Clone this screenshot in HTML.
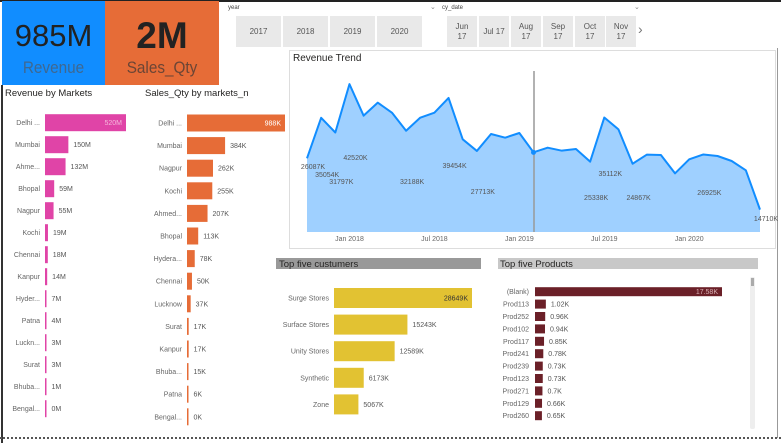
<!DOCTYPE html>
<html><head><meta charset="utf-8">
<style>
body{margin:0;width:781px;height:443px;overflow:hidden;background:#fff;font-family:"Liberation Sans",sans-serif;position:relative}
.abs{position:absolute}
.btn{position:absolute;background:#e9e9e9;color:#555;font-size:8px;display:flex;align-items:center;justify-content:center;text-align:center;line-height:10px}
svg text{font-family:"Liberation Sans",sans-serif}
</style></head><body>
<div class="abs" style="left:0;top:0;width:781px;height:2px;background:#222"></div>
<div class="abs" style="left:1px;top:85px;width:2px;height:358px;background:#333"></div>
<div class="abs" style="left:777px;top:48px;width:1px;height:390px;background:#999"></div>
<div class="abs" style="left:0;top:437px;width:781px;height:0;border-top:2px dotted #555"></div>

<div class="abs" style="left:2px;top:1px;width:103px;height:84px;background:#118dff">
 <div class="abs" style="left:0;width:103px;top:17px;text-align:center;font-size:31px;line-height:36px;color:#222">985M</div>
 <div class="abs" style="left:0;width:103px;top:57px;text-align:center;font-size:17px;line-height:20px;color:#3f6890;transform:scaleX(0.9)">Revenue</div>
</div>
<div class="abs" style="left:105px;top:1px;width:114px;height:84px;background:#e66c37">
 <div class="abs" style="left:0;width:114px;top:15px;text-align:center;font-size:37px;line-height:40px;font-weight:bold;color:#222">2M</div>
 <div class="abs" style="left:0;width:114px;top:57px;text-align:center;font-size:17px;line-height:20px;color:#6b4535;transform:scaleX(0.9)">Sales_Qty</div>
</div>

<div class="abs" style="left:228px;top:5px;font-size:6px;color:#444">year</div>
<div class="abs" style="left:430px;top:3px;font-size:7px;color:#888">⌄</div>
<div class="btn" style="left:236px;top:16px;width:45px;height:31px">2017</div>
<div class="btn" style="left:283px;top:16px;width:45px;height:31px">2018</div>
<div class="btn" style="left:330px;top:16px;width:45px;height:31px">2019</div>
<div class="btn" style="left:377px;top:16px;width:45px;height:31px">2020</div>
<div class="abs" style="left:442px;top:5px;font-size:6px;color:#444">cy_date</div>
<div class="abs" style="left:634px;top:3px;font-size:7px;color:#888">⌄</div>
<div class="btn" style="left:447px;top:16px;width:30px;height:31px">Jun<br>17</div>
<div class="btn" style="left:479px;top:16px;width:30px;height:31px">Jul 17</div>
<div class="btn" style="left:511px;top:16px;width:30px;height:31px">Aug<br>17</div>
<div class="btn" style="left:543px;top:16px;width:30px;height:31px">Sep<br>17</div>
<div class="btn" style="left:575px;top:16px;width:30px;height:31px">Oct<br>17</div>
<div class="btn" style="left:606px;top:16px;width:30px;height:31px">Nov<br>17</div>
<div class="abs" style="left:638px;top:21px;font-size:14px;color:#777">›</div>

<svg class="abs" style="left:0;top:0" width="781" height="443" id="svg"></svg>

<script>
// Revenue trend data (K), Oct 2017 .. Jun 2020
const trendValues=[26087,35054,31797,42520,35527,38407,36191,32188,35084,36191,39454,30283,27713,31464,30652,31686,27402,28436,27771,28141,25338,35112,32498,24867,26885,26811,22749,25851,26925,26590,25482,23414,14710];
const trendTicks=["Jan 2018","Jul 2018","Jan 2019","Jul 2019","Jan 2020"];
const trendTickIdx=[3,9,15,21,27];
const trendLabelIdx=[0,1,2,3,7,10,12,21,20,23,28,32];
const trendLabelY=[167,175,182,158,182,166,192,174,198,198,193,219];

const revMarkets=["Delhi ...","Mumbai","Ahme...","Bhopal","Nagpur","Kochi","Chennai","Kanpur","Hyder...","Patna","Luckn...","Surat","Bhuba...","Bengal..."];
const revValues=[520,150,132,59,55,19,18,14,7,4,3,3,1,0];
const qtyMarkets=["Delhi ...","Mumbai","Nagpur","Kochi","Ahmed...","Bhopal","Hydera...","Chennai","Lucknow","Surat","Kanpur","Bhuba...","Patna","Bengal..."];
const qtyValues=[988,384,262,255,207,113,78,50,37,17,17,15,6,0];
const custNames=["Surge Stores","Surface Stores","Unity Stores","Synthetic","Zone"];
const custValues=[28649,15243,12589,6173,5067];
const prodNames=["(Blank)","Prod113","Prod252","Prod102","Prod117","Prod241","Prod239","Prod123","Prod271","Prod129","Prod260"];
const prodValues=[17.58,1.02,0.96,0.94,0.85,0.78,0.73,0.73,0.7,0.66,0.65];

const svg=document.getElementById('svg');
const NS='http://www.w3.org/2000/svg';
function mk(tag,attrs,parent){const e=document.createElementNS(NS,tag);for(const k in attrs)e.setAttribute(k,attrs[k]);(parent||svg).appendChild(e);return e;}
function txt(x,y,s,attrs){const t=mk('text',Object.assign({x:x,y:y},attrs||{}));t.textContent=s;return t;}

// Revenue trend panel
const panel=mk('rect',{x:289.5,y:50.5,width:486,height:198,fill:'#fff',stroke:'#ddd'});


const tt=txt(293,61,'Revenue Trend',{'font-size':10,fill:'#252423'});


const tx0=307,tx1=760,yb=232;
const tX=i=>tx0+(tx1-tx0)*i/(trendValues.length-1);
function trendY(v){return 276-v*0.004513;} // y-axis not starting at zero
let d='M'+tX(0)+','+yb;let ln='';
trendValues.forEach((v,i)=>{d+=' L'+tX(i)+','+trendY(v);ln+=(i?' L':'M')+tX(i)+','+trendY(v);});
d+=' L'+tX(trendValues.length-1)+','+yb+' Z';
const area=mk('path',{d:d,fill:'#9fd0ff'});


const line=mk('path',{d:ln,fill:'none',stroke:'#118dff','stroke-width':2,'stroke-linejoin':'round'});


const vl=mk('line',{x1:534,y1:71,x2:534,y2:yb,stroke:'#999','stroke-width':1.5});


const dot=mk('circle',{cx:tX(16),cy:trendY(trendValues[16]),r:2.5,fill:'#118dff'});


trendTicks.forEach((s,k)=>{const t=txt(tX(trendTickIdx[k]),241,s,{'font-size':7,fill:'#666','text-anchor':'middle'});

});
trendLabelIdx.forEach((i,k)=>{const t=txt(Math.min(tX(i)+6,766),trendLabelY[k]+2,Math.round(trendValues[i])+'K',{'font-size':7,fill:'#555','text-anchor':'middle'});

});

// horizontal bar chart helper
function hbar(o){
 const t=txt(o.tx,o.ty,o.title,{'font-size':o.tsize||9.5,fill:'#252423'});
 
 
 o.vals.forEach((v,i)=>{
  const cy=o.y0+o.step*i;const w=Math.max(1.5,v*o.scale);
  const r=mk('rect',{x:o.x0,y:cy-o.h/2,width:w,height:o.h,fill:o.color});
  
  
  const c=txt(o.x0-(o.gap||5),cy+2.5,o.cats[i],{'font-size':o.fs||7,fill:'#666','text-anchor':'end'});
  
  
  const s=o.fmt(v);
  let lab;
  if(i===0){lab=txt(o.x0+w-4,cy+2.5,s,{'font-size':o.fs||7,fill:o.inner,'text-anchor':'end'});}
  else lab=txt(o.x0+w+5,cy+2.5,s,{'font-size':o.fs||7,fill:'#555'});
  
  
 });
}
hbar({name:'revenue-by-markets',title:'Revenue by Markets',tx:5,ty:96,cats:revMarkets,vals:revValues,x0:45,y0:122.7,step:22,h:17,scale:81/520,color:'#e044a7',inner:'#f5b8dc',fmt:v=>v+'M'});
hbar({name:'sales-qty-by-markets',title:'Sales_Qty by markets_n',tx:145,ty:96,cats:qtyMarkets,vals:qtyValues,x0:187,y0:123,step:22.6,h:17,scale:98/988,color:'#e66c37',inner:'#fff',fmt:v=>v+'K'});

// top five headers
const h1=mk('rect',{x:276,y:258,width:205,height:11,fill:'#999'});


const h2=mk('rect',{x:498,y:258,width:260,height:11,fill:'#c8c8c8'});


hbar({name:'top-five-customers',title:'Top five custumers',tx:279,ty:267,tsize:9.5,cats:custNames,vals:custValues,x0:334,y0:298,step:26.6,h:20,scale:138/28649,color:'#e2c232',inner:'#333',fmt:v=>v+'K'});
hbar({name:'top-five-products',title:'Top five Products',tx:500,ty:267,tsize:9.5,cats:prodNames,vals:prodValues,x0:535,y0:291.7,step:12.4,h:9,scale:187/17.58,color:'#6b2028',inner:'#d9b0b4',fmt:v=>v+'K',gap:6});
const sb=mk('rect',{x:750,y:277,width:5,height:152,rx:2,fill:'#eee'});


const th=mk('rect',{x:751,y:278,width:3,height:8,fill:'#aaa'});


</script>
</body></html>
